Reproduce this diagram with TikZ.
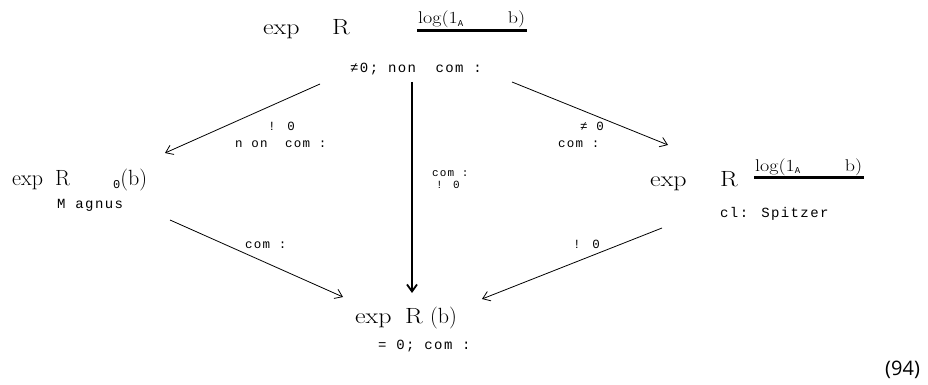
\documentclass[tikz,border=0pt]{standalone}
\usepackage{fontspec}
\usepackage{graphicx}
\usetikzlibrary{arrows.meta,calc}
\newfontfamily\lblfont[LetterSpace=10]{Liberation Mono}
\newfontfamily\eqfont{Open Sans}
\newcommand\wideR[1]{\scalebox{1.18}[1]{#1}}
\newcommand\fsubA{\raisebox{-2.5pt}{\lblfont\fontsize{9}{9}\selectfont A}}
\tikzset{
  mainlbl/.style={inner sep=0pt, anchor=base west, font=\fontsize{22}{22}\selectfont},
  fraclbl/.style={inner sep=0pt, anchor=base west, font=\fontsize{17}{17}\selectfont},
  sublbl/.style={inner sep=0pt, anchor=base west, font=\lblfont\fontsize{14}{14}\selectfont},
  edgelbl/.style={inner sep=0pt, anchor=base west, font=\lblfont\fontsize{12.5}{12.5}\selectfont},
  midlbl/.style={inner sep=0pt, anchor=base west, font=\lblfont\fontsize{11}{11}\selectfont},
  conn/.style={draw, line width=0.8pt, -{Straight Barb[length=7pt,width=10pt]}},
  fracbar/.style={line width=3pt},
}
\begin{document}
\begin{tikzpicture}[x=1pt,y=-1pt]
\useasboundingbox (0,0) rectangle (928,385);
% top vertex
\node[mainlbl] (topexp) at (263,35) {\makebox[69pt][l]{\wideR{exp}}\wideR{R}};
\node[fraclbl] (topfrac) at (418,24) {\makebox[107pt][l]{\wideR{log(1}\fsubA\hfill\wideR{b)}}};
\draw[fracbar] ([yshift=-2pt,xshift=-1pt]topfrac.south west) -- ([yshift=-2pt,xshift=2pt]topfrac.south east);
\node[sublbl] (topsub) at (350,73) {≠0; non\ \ com :};
% left vertex
\node[mainlbl] (lexp) at (12,185) {\makebox[43pt][l]{exp}\makebox[58pt][l]{R}\raisebox{-3pt}{\lblfont\fontsize{12}{12}\selectfont 0}(b)};
\node[sublbl] (lsub) at (57,208) {M agnus};
% right vertex
\node[mainlbl] (rexp) at (650,186) {\makebox[70pt][l]{\wideR{exp}}\wideR{R}};
\node[fraclbl] (rfrac) at (755,171) {\makebox[107pt][l]{\wideR{log(1}\fsubA\hfill\wideR{b)}}};
\draw[fracbar] ([yshift=-2pt,xshift=-1pt]rfrac.south west) -- ([yshift=-2pt,xshift=2pt]rfrac.south east);
\node[sublbl] (rsub) at (720,217) {cl: Spitzer};
% bottom vertex
\node[mainlbl] (bexp) at (355,323) {\makebox[50pt][l]{\wideR{exp}}\makebox[25pt][l]{\wideR{R}}(b)};
\node[sublbl] (bsub) at (378,349) {= 0; com :};
% connectors
\draw[conn] ($(topsub.base west)+(-30,11)$) -- ($(lexp.base west)+(153,-32)$);
\draw[conn, line width=1.8pt] ($(topsub.base west)+(62,9)$) -- ($(bexp.base west)+(57,-30)$);
\draw[conn] ($(topsub.base west)+(162,9)$) -- ($(rexp.base west)+(18,-41)$);
\draw[conn] ($(lsub.base west)+(113,12)$) -- ($(bexp.base west)+(-12,-26)$);
\draw[conn] ($(rsub.base west)+(-58,11)$) -- ($(bexp.base west)+(127,-24)$);
% edge labels
\node[edgelbl] (tl1) at (268,131) {! 0};
\node[edgelbl] (tl2) at (235,147) {n on\ \ com :};
\node[midlbl] (v1) at (432,176) {com :};
\node[midlbl] (v2) at (436,188) {! 0};
\node[edgelbl] (tr1) at (580,131) {≠ 0};
\node[edgelbl] (tr2) at (558,147) {com :};
\node[edgelbl] (bl1) at (245,248) {com :};
\node[edgelbl] (br1) at (573,248) {! 0};
% equation number
\node[inner sep=0pt, anchor=base west, font=\eqfont\fontsize{20}{20}\selectfont] (eqno) at (885,375) {(94)};
\end{tikzpicture}
\end{document}
